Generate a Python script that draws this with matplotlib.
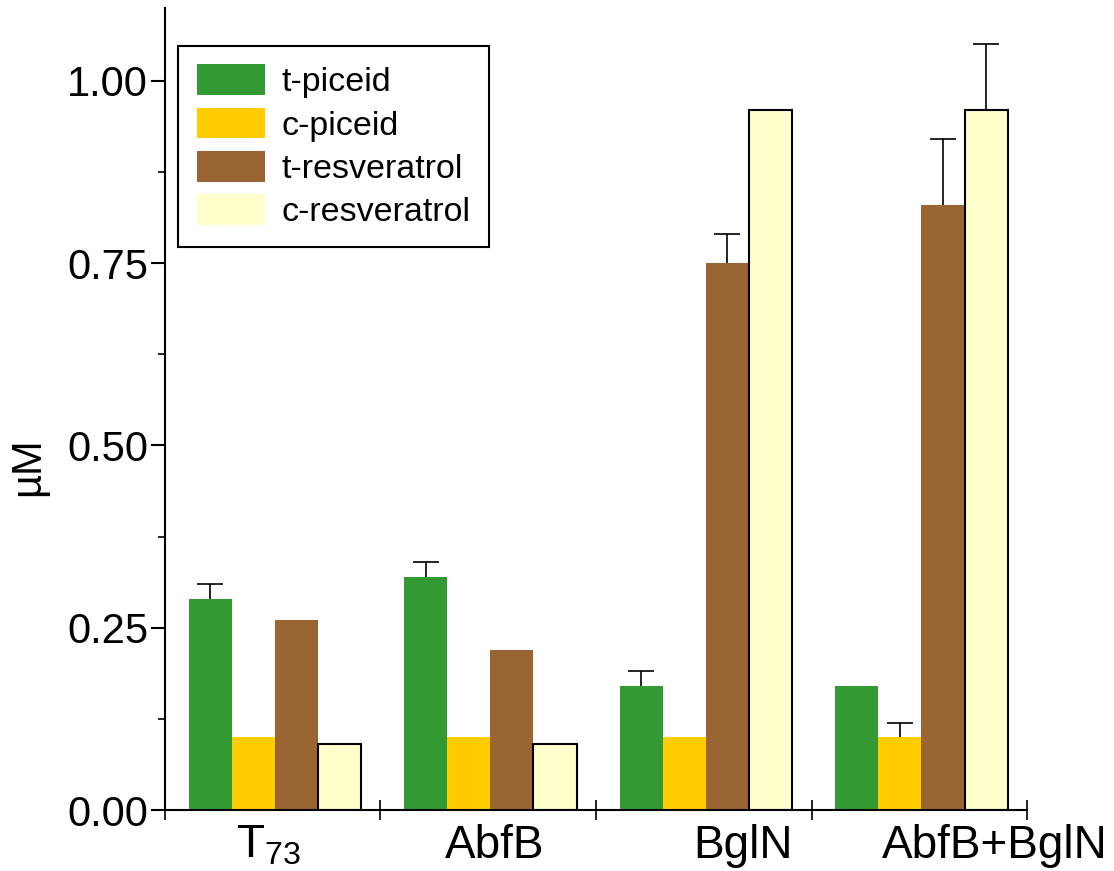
import numpy as np
import matplotlib.pyplot as plt
from matplotlib.patches import Patch

plt.rcParams['font.family'] = ['Liberation Sans', 'DejaVu Sans']
plt.rcParams['mathtext.fontset'] = 'custom'
plt.rcParams['mathtext.rm'] = 'Liberation Sans'
plt.rcParams['mathtext.it'] = 'Liberation Sans'

groups = [r'T$_{73}$', 'AbfB', 'BglN', 'AbfB+BglN']
series = ['t-piceid', 'c-piceid', 't-resveratrol', 'c-resveratrol']
t_piceid = [0.29, 0.32, 0.17, 0.17]
c_piceid = [0.10, 0.10, 0.10, 0.10]
t_resv = [0.26, 0.22, 0.75, 0.83]
c_resv = [0.09, 0.09, 0.96, 0.96]
# upper error only, 0 = no bar drawn
t_piceid_err = [0.02, 0.02, 0.02, 0.0]
c_piceid_err = [0.0, 0.0, 0.0, 0.02]
t_resv_err = [0.0, 0.0, 0.04, 0.09]
c_resv_err = [0.0, 0.0, 0.0, 0.09]

colors = ['#339933', '#FFCC00', '#996633', '#FFFFCC']
edges = ['none', 'none', 'none', 'black']

values = [t_piceid, c_piceid, t_resv, c_resv]
errs = [t_piceid_err, c_piceid_err, t_resv_err, c_resv_err]

fig = plt.figure(figsize=(11.14, 8.71), dpi=100)
ax = fig.add_axes([0.148, 0.070, 0.774, 0.921])

x = np.arange(len(groups))
w = 0.2
for k in range(4):
    pos = x - 0.3 + k * w + 0.01
    ax.bar(pos, values[k], width=w, color=colors[k], edgecolor=edges[k],
           linewidth=1.5, zorder=2)
    e = np.array(errs[k])
    m = e > 0
    if m.any():
        v = np.array(values[k])
        eb = ax.errorbar(pos[m], v[m], yerr=[np.zeros(m.sum()), e[m]], fmt='none',
                         ecolor='black', elinewidth=1.2, capsize=9.5, capthick=1.2,
                         zorder=3)
        # hide the lower cap (sits on the bar top)
        eb[1][0].set_visible(False)

ax.set_xlim(-0.5, 3.5)
ax.set_ylim(0, 1.10)

ax.spines['top'].set_visible(False)
ax.spines['right'].set_visible(False)
ax.spines['left'].set_linewidth(1.5)
ax.spines['bottom'].set_linewidth(1.5)

ax.set_yticks([0, 0.25, 0.5, 0.75, 1.0])
ax.set_yticklabels(['0.00', '0.25', '0.50', '0.75', '1.00'])
ax.set_yticks([0.125, 0.375, 0.625, 0.875], minor=True)
ax.tick_params(axis='y', which='major', direction='out', length=10, width=1.5,
               labelsize=30, pad=2)
ax.tick_params(axis='y', which='minor', direction='out', length=5, width=1.2)

label_pos = [-0.02, 1.03, 2.18, 3.35]
ax.set_xticks(label_pos)
ax.set_xticklabels(groups)
ax.set_xticks([-0.5, 0.5, 1.5, 2.5, 3.5], minor=True)
ax.tick_params(axis='x', which='major', length=0, labelsize=33, pad=10)
ax.tick_params(axis='x', which='minor', direction='inout', length=14, width=1.2)

ax.set_ylabel('µM', fontsize=30)
ax.yaxis.set_label_coords(-0.135, 0.428)

handles = [Patch(facecolor=c, edgecolor='none', label=s) for c, s in zip(colors, series)]
leg = ax.legend(handles=handles, loc='upper left', bbox_to_anchor=(0.015, 0.953),
                fontsize=24.5, frameon=True, fancybox=False, framealpha=1,
                edgecolor='black', handlelength=2.0, handleheight=1.0,
                handletextpad=0.5, labelspacing=0.28, borderpad=0.55,
                borderaxespad=0)
leg.get_frame().set_linewidth(1.5)

fig.savefig('out.png', dpi=100)
